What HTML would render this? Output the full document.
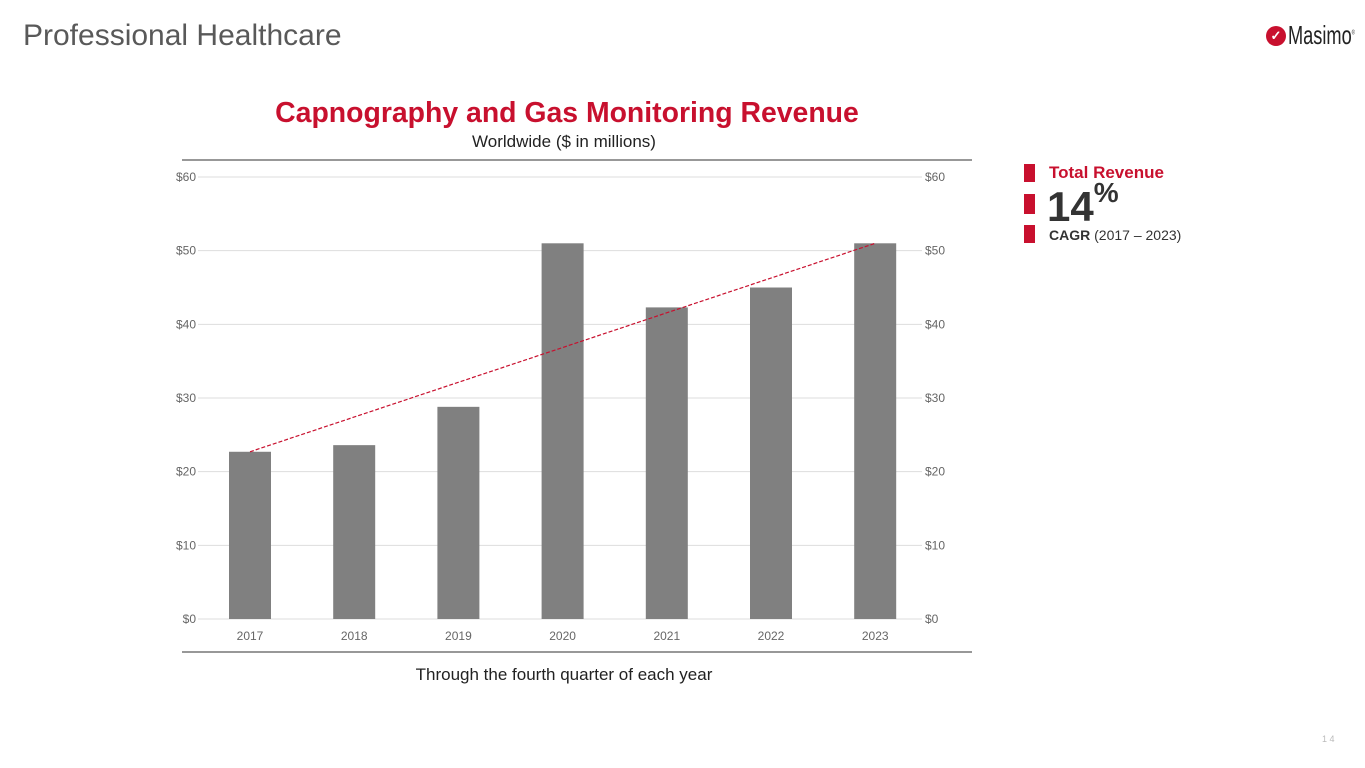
<!DOCTYPE html>
<html><head><meta charset="utf-8"><style>
body{margin:0;width:1365px;height:768px;background:#fff;font-family:"Liberation Sans",sans-serif;position:relative;overflow:hidden}
.abs{position:absolute}
</style></head><body>
<div class="abs" style="left:23px;top:19px;font-size:30px;color:#595959">Professional Healthcare</div>
<div class="abs" style="left:1266px;top:20px;display:flex;align-items:center">
<div style="width:20px;height:20px;border-radius:50%;background:#c8102e;color:#fff;font-size:13px;font-weight:bold;text-align:center;line-height:20px">✓</div>
<span style="font-size:26px;color:#222;font-family:'Liberation Sans Narrow','Liberation Sans',sans-serif;transform:scaleX(.7);transform-origin:left;display:inline-block;margin-left:2px">Masimo<sup style="font-size:6px">®</sup></span></div>
<div class="abs" style="left:0;width:1134px;top:97px;text-align:center;font-size:28.4px;font-weight:bold;color:#c8102e">Capnography and Gas Monitoring Revenue</div>
<div class="abs" style="left:0;width:1128px;top:132px;text-align:center;font-size:17px;color:#222">Worldwide ($ in millions)</div>
<div class="abs" style="left:0;width:1128px;top:665px;text-align:center;font-size:17px;color:#222">Through the fourth quarter of each year</div>
<svg class="abs" style="left:0;top:0" width="1365" height="768" id="chart"></svg>
<div class="abs" style="left:1024px;top:164px;width:11px;height:18px;background:#c8102e"></div>
<div class="abs" style="left:1024px;top:194px;width:11px;height:20px;background:#c8102e"></div>
<div class="abs" style="left:1024px;top:225px;width:11px;height:18px;background:#c8102e"></div>
<div class="abs" style="left:1049px;top:163px;font-size:17px;font-weight:bold;color:#c8102e">Total Revenue</div>
<div class="abs" style="left:1047px;top:183px;font-size:42px;font-weight:bold;color:#333">14<span style="font-size:28px;vertical-align:top;position:relative;top:-6px">%</span></div>
<div class="abs" style="left:1049px;top:227px;font-size:14px;color:#333"><b>CAGR</b> (2017 – 2023)</div>
<div class="abs" style="left:1322px;top:734px;font-size:9px;color:#bbb">1 4</div>
<script>
const categories=["2017","2018","2019","2020","2021","2022","2023"];
const revenue=[22.7,23.6,28.8,51,42.3,45,51];
const yTicks=[0,10,20,30,40,50,60];
const yTickLabels=["$0","$10","$20","$30","$40","$50","$60"];
const trendStart=22.7, trendEnd=51;
const svg=document.getElementById('chart');const NS="http://www.w3.org/2000/svg";
const y=v=>619-v*(442/60);const x=i=>250+i*104.2;
function el(t,a,n){const e=document.createElementNS(NS,t);for(const k in a)e.setAttribute(k,a[k]);


svg.appendChild(e);return e;}
el('line',{x1:182,x2:972,y1:160,y2:160,stroke:'#777','stroke-width':1.5},'chart-top-border');
el('line',{x1:182,x2:972,y1:652,y2:652,stroke:'#777','stroke-width':1.5},'chart-bottom-border');
yTicks.forEach((v,i)=>{
el('line',{x1:198,x2:922,y1:y(v),y2:y(v),stroke:'#ddd','stroke-width':1},'gridline');
const l=el('text',{x:196,y:y(v)+4,'text-anchor':'end','font-size':12,fill:'#666'},'y-tick-left');l.textContent=yTickLabels[i];
const r=el('text',{x:925,y:y(v)+4,'font-size':12,fill:'#666'},'y-tick-right');r.textContent=yTickLabels[i];});
revenue.forEach((v,i)=>{
el('rect',{x:x(i)-21,y:y(v),width:42,height:y(0)-y(v),fill:'#808080'},'bar-'+categories[i]);
const t=el('text',{x:x(i),y:640,'text-anchor':'middle','font-size':12,fill:'#666'},'x-tick');t.textContent=categories[i];});
el('line',{x1:x(0),y1:y(trendStart),x2:x(6),y2:y(trendEnd),stroke:'#c8102e','stroke-width':1.2,'stroke-dasharray':'4,2'},'trend-line');
</script>
</body></html>
